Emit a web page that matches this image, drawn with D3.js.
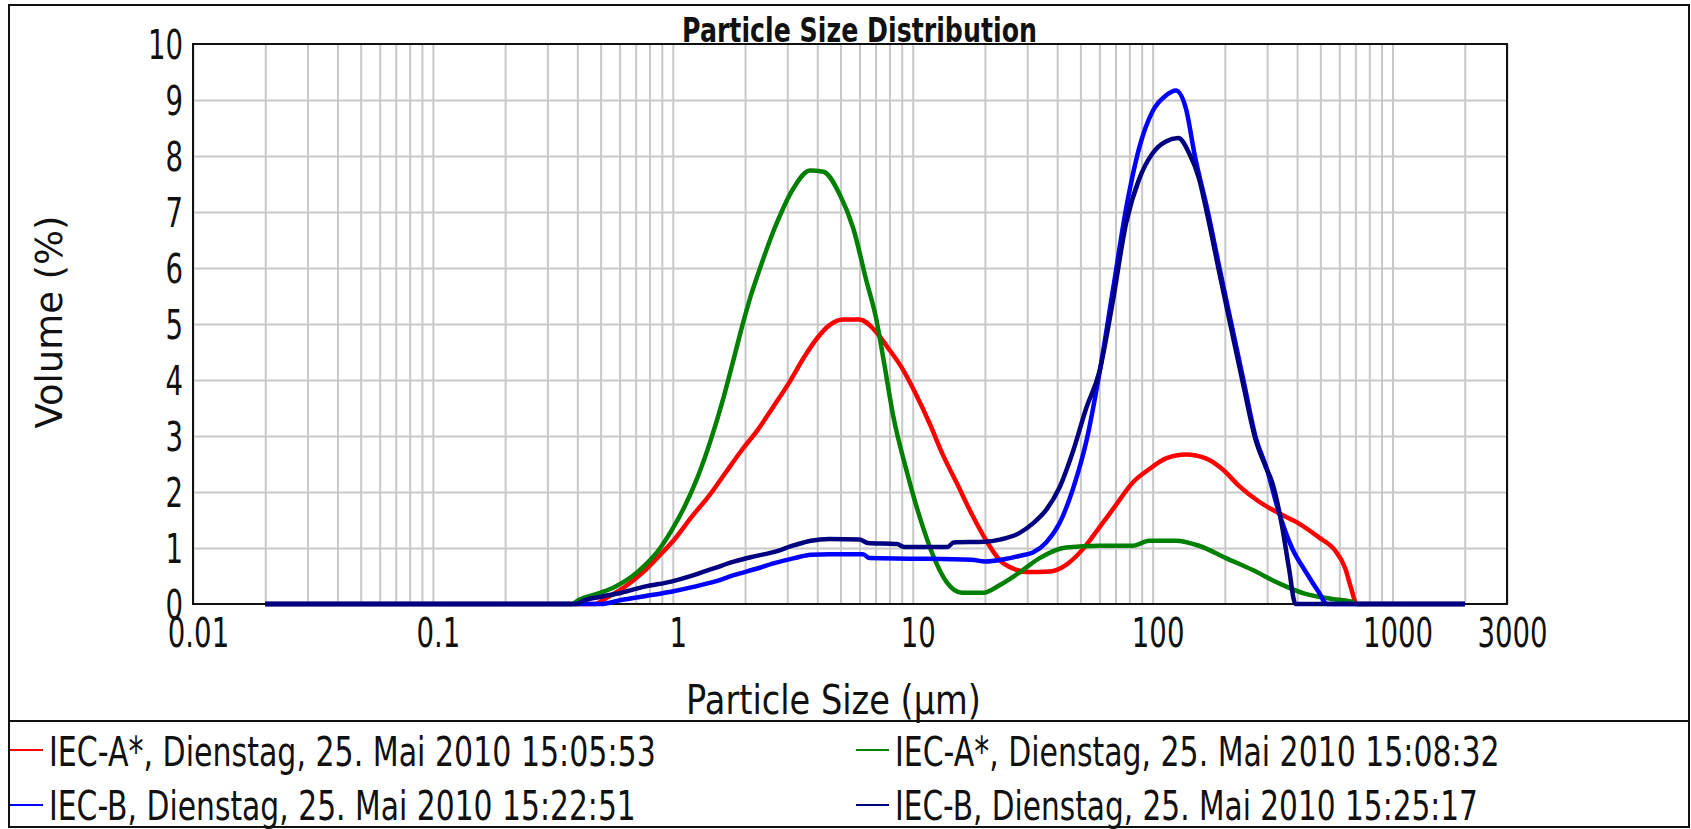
<!DOCTYPE html>
<html><head><meta charset="utf-8">
<script src="https://cdn.jsdelivr.net/npm/d3@7"></script>
<style>html,body{margin:0;padding:0;background:#fff;} svg{display:block;}</style>
</head><body>
<svg id="chart" width="1691" height="829"></svg>
<script>
// ---------- data ----------
const chartTitle = "Particle Size Distribution";
const xTitle = "Particle Size (µm)";
const yTitle = "Volume (%)";
const yTicks = [0,1,2,3,4,5,6,7,8,9,10];
const xTicks = [0.01,0.1,1,10,100,1000,3000];
const xTickLabels = ["0.01","0.1","1","10","100","1000","3000"];
const seriesNames = [
  "IEC-A*, Dienstag, 25. Mai 2010 15:05:53",
  "IEC-A*, Dienstag, 25. Mai 2010 15:08:32",
  "IEC-B, Dienstag, 25. Mai 2010 15:22:51",
  "IEC-B, Dienstag, 25. Mai 2010 15:25:17"
];
const seriesColors = ["#ff0000","#008000","#0000ff","#000080"];
// [particle size µm, volume %]
const redA = [[0.02,0],[0.47,0],[0.54,0.13],[0.633,0.31],[0.744,0.55],[0.873,0.85],[1.023,1.17],[1.2,1.56],[1.41,1.92],[1.65,2.33],[1.94,2.75],[2.26,3.11],[2.62,3.52],[3.04,3.94],[3.54,4.42],[4.0,4.75],[4.5,4.98],[5.1,5.08],[6.0,5.08],[6.9,4.90],[7.9,4.57],[9.0,4.22],[10.3,3.75],[11.8,3.21],[13.3,2.68],[15.3,2.15],[17.6,1.61],[20.2,1.14],[23.1,0.78],[26.3,0.63],[29.8,0.57],[37.2,0.58],[43.6,0.70],[51.2,0.98],[60,1.37],[70.4,1.77],[82.6,2.17],[96.9,2.41],[113.6,2.60],[137.6,2.67],[166.6,2.60],[195,2.41],[229,2.11],[277,1.83],[336,1.62],[406,1.44],[493,1.19],[577,0.95],[635,0.64],[670,0.30],[710,0],[2000,0]];
const greenA = [[0.02,0],[0.38,0],[0.405,0.07],[0.49,0.19],[0.575,0.31],[0.675,0.49],[0.768,0.70],[0.872,0.96],[0.99,1.32],[1.12,1.74],[1.27,2.27],[1.44,2.93],[1.63,3.70],[1.79,4.36],[1.96,5.01],[2.13,5.55],[2.26,5.88],[2.71,6.80],[3.18,7.42],[3.73,7.74],[4.24,7.72],[4.98,7.30],[5.65,6.71],[6.43,5.75],[7.0,5.15],[7.6,4.3],[8.3,3.35],[9.4,2.4],[10.7,1.55],[12.2,0.85],[13.9,0.38],[16.0,0.2],[19.7,0.2],[23.1,0.34],[28,0.57],[33.8,0.82],[43.6,1.01],[60,1.04],[82.6,1.04],[96.9,1.13],[125,1.13],[156,1.04],[202,0.82],[260,0.61],[336,0.37],[434,0.18],[560,0.09],[676,0.04],[710,0],[2000,0]];
const blueB = [[0.02,0],[0.50,0],[0.609,0.07],[0.762,0.14],[0.984,0.22],[1.231,0.31],[1.49,0.40],[1.81,0.52],[2.19,0.62],[2.65,0.73],[3.21,0.82],[3.77,0.88],[4.5,0.89],[6.2,0.89],[6.6,0.82],[10,0.81],[17.6,0.79],[20,0.76],[24,0.80],[27.9,0.86],[31.7,0.92],[36,1.10],[40.9,1.44],[46.5,2.05],[52.9,2.90],[60,4.12],[68.2,5.59],[77.5,7.06],[88.1,8.16],[100,8.80],[113.6,9.08],[125,9.17],[137.6,8.85],[150,8.0],[170,7.0],[190,6.0],[213,5.0],[239,4.0],[268,3.0],[300,2.4],[330,1.75],[381,1.0],[434,0.58],[493,0.21],[534,0],[2000,0]];
const navyB = [[0.02,0],[0.40,0],[0.415,0.04],[0.503,0.13],[0.609,0.20],[0.762,0.31],[0.984,0.40],[1.231,0.52],[1.49,0.64],[1.81,0.76],[2.19,0.85],[2.65,0.93],[3.21,1.05],[3.77,1.13],[4.5,1.16],[6.0,1.15],[6.5,1.09],[8.6,1.07],[9.2,1.02],[14,1.02],[14.8,1.10],[20,1.11],[23.1,1.15],[27.9,1.27],[31.7,1.44],[36,1.68],[40.9,2.08],[46.5,2.72],[52.9,3.50],[60,4.15],[68.2,5.40],[77.5,6.80],[88.1,7.60],[100,8.05],[113.6,8.26],[128,8.32],[142,8.05],[156,7.6],[170,6.9],[190,5.9],[213,4.9],[239,3.9],[268,2.95],[296,2.45],[315,2.17],[347,1.37],[370,0.64],[394,0],[2000,0]];
const seriesData = [redA, greenA, blueB, navyB];

// ---------- layout ----------
const svg = d3.select("#chart");
const P = {left:193, right:1507, top:44, bottom:604};
const FONT = "'DejaVu Sans', Verdana, sans-serif";
const x = d3.scaleLog().domain([0.01,3000]).range([P.left,P.right]);
const y = d3.scaleLinear().domain([0,10]).range([P.bottom,P.top]);

// place a text so that its drawn width equals `w` (horizontal squeeze like the reference)
function fitText(t, px, py, w, anchor, rot){
  t.attr("x",0).attr("y",0).attr("text-anchor",anchor||"start");
  const nat = t.node().getComputedTextLength();
  const s = w / nat;
  if (rot) t.attr("transform",`translate(${px},${py}) rotate(${rot}) scale(${s},1)`);
  else t.attr("transform",`translate(${px},${py}) scale(${s},1)`);
  return t;
}

// outer frame and legend separator
svg.append("rect").attr("x",9).attr("y",5).attr("width",1680).attr("height",822)
  .attr("fill","#fff").attr("stroke","#111").attr("stroke-width",2);
svg.append("line").attr("x1",9).attr("x2",1689).attr("y1",721).attr("y2",721)
  .attr("stroke","#111").attr("stroke-width",2);

// grid
const gridX = [];
for (let e=-2;e<=3;e++) for (let k=1;k<=9;k++){ const v=+(k+"e"+e); if (v>=0.01 && v<=3000) gridX.push(v); }
const gx = svg.append("g").attr("transform",`translate(0,${P.bottom})`)
  .call(d3.axisBottom(x).tickValues(gridX).tickSize(-(P.bottom-P.top)).tickFormat(""));
gx.select(".domain").remove();
gx.selectAll("line").attr("stroke","#c8c8c8").attr("stroke-width",2);
const gy = svg.append("g").attr("transform",`translate(${P.left},0)`)
  .call(d3.axisLeft(y).tickValues(yTicks.filter(d=>d>0&&d<10)).tickSize(-(P.right-P.left)).tickFormat(""));
gy.select(".domain").remove();
gy.selectAll("line").attr("stroke","#c8c8c8").attr("stroke-width",2);

// plot border
svg.append("rect").attr("x",P.left).attr("y",P.top).attr("width",P.right-P.left).attr("height",P.bottom-P.top)
  .attr("fill","none").attr("stroke","#111").attr("stroke-width",2);

// series
const line = d3.line().x(d=>x(d[0])).y(d=>y(d[1])).curve(d3.curveMonotoneX);
seriesData.forEach((s,i)=>{
  svg.append("path").datum(s).attr("d",line).attr("fill","none")
    .attr("stroke",seriesColors[i]).attr("stroke-width",4.5)
    .attr("stroke-linejoin","round").attr("stroke-linecap","butt");
});

// axes labels
const SX = 0.69;
const ay = svg.append("g").attr("transform",`translate(${P.left},0)`)
  .call(d3.axisLeft(y).tickValues(yTicks).tickSize(0).tickPadding(0).tickFormat(d3.format("d")));
ay.select(".domain").remove();
ay.attr("font-family",FONT).attr("font-size",40);
ay.selectAll("text").attr("fill","#111").attr("x",-10/SX).attr("dy","0.36em")
  .attr("transform",`scale(${SX},1)`);

const ax = svg.append("g").attr("transform",`translate(0,${P.bottom})`)
  .call(d3.axisBottom(x).tickValues(xTicks).tickSize(0).tickPadding(14.6).tickFormat((d,i)=>xTickLabels[i]));
ax.select(".domain").remove();
ax.attr("font-family",FONT).attr("font-size",40);
ax.selectAll("text").attr("fill","#111").attr("x",5/SX).attr("transform",`scale(${SX},1)`);

// titles
fitText(svg.append("text").attr("font-family",FONT).attr("font-weight","bold").attr("font-size",33)
  .attr("fill","#111").text(chartTitle), 859.5, 42, 355, "middle");
fitText(svg.append("text").attr("font-family",FONT).attr("font-size",40)
  .attr("fill","#111").text(xTitle), 833.5, 714, 295, "middle");
fitText(svg.append("text").attr("font-family",FONT).attr("font-size",37)
  .attr("fill","#111").text(yTitle), 62, 322, 213, "middle", -90);

// legend
const legPos = [
  {lx:10, tx:49, ly:750, ty:766, w:607},
  {lx:856, tx:895, ly:750, ty:766, w:605},
  {lx:10, tx:49, ly:805, ty:820, w:587},
  {lx:856, tx:895, ly:805, ty:820, w:583}
];
seriesNames.forEach((name,i)=>{
  const p = legPos[i];
  svg.append("line").attr("x1",p.lx).attr("x2",p.lx+33).attr("y1",p.ly).attr("y2",p.ly)
    .attr("stroke",seriesColors[i]).attr("stroke-width",2);
  fitText(svg.append("text").attr("font-family",FONT).attr("font-size",41)
    .attr("fill","#111").text(name), p.tx, p.ty, p.w, "start");
});
</script>
</body></html>
